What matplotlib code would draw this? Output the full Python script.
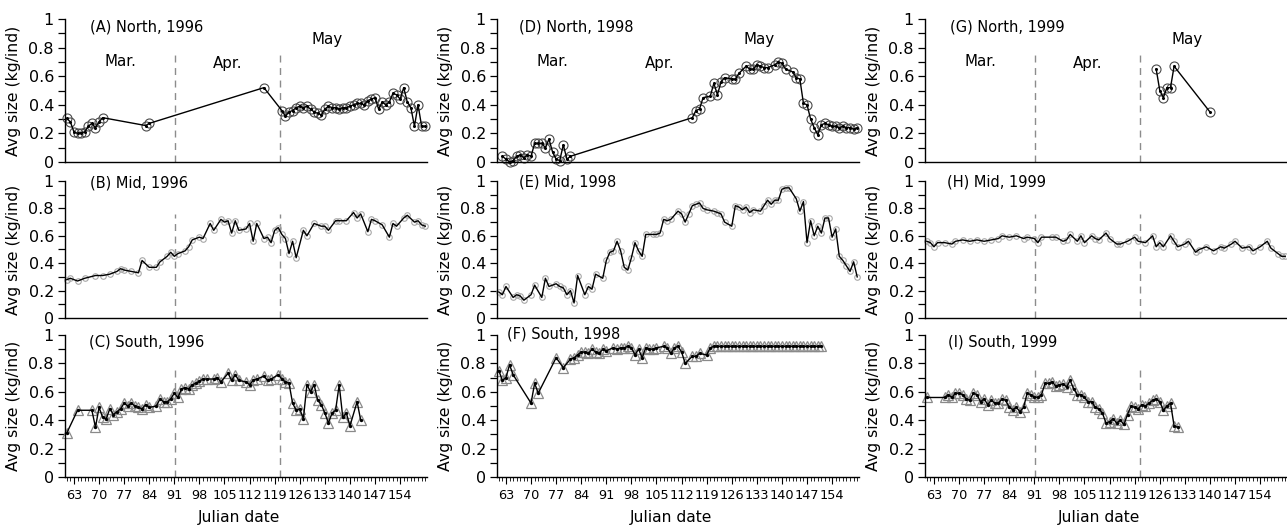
import matplotlib
matplotlib.use('Agg')
import matplotlib.pyplot as plt
from matplotlib.ticker import MultipleLocator, FixedLocator, FuncFormatter

# ---------------- data (Julian day, average size kg/ind) ----------------
# North 1996 (A)
a_days = [61, 62, 63, 64, 65, 66, 67, 68, 69, 70, 71, 83, 84, 116,
          121, 122, 123, 124, 125, 126, 127, 128, 129, 130, 131, 132, 133, 134,
          135, 136, 137, 138, 139, 140, 141, 142, 143, 144, 145, 146, 147, 148,
          149, 150, 151, 152, 153, 154, 155, 156, 157, 158, 159, 160, 161]
a_vals = [0.305, 0.28, 0.21, 0.20, 0.205, 0.21, 0.25, 0.27, 0.24, 0.28, 0.31, 0.255, 0.27, 0.52,
          0.36, 0.32, 0.35, 0.36, 0.38, 0.39, 0.38, 0.39, 0.37, 0.35, 0.34, 0.33, 0.37, 0.39,
          0.38, 0.38, 0.37, 0.38, 0.38, 0.39, 0.40, 0.41, 0.41, 0.40, 0.43, 0.44, 0.45, 0.37,
          0.42, 0.40, 0.42, 0.48, 0.47, 0.44, 0.52, 0.42, 0.38, 0.25, 0.40, 0.25, 0.25]

# Mid 1996 (B)
b_days = [61, 62, 64, 66, 69, 71, 73, 75, 76, 77, 79, 81, 82, 84, 86, 87, 89, 90, 91, 92,
          94, 95, 96, 98, 99, 101, 102, 104, 105, 106, 107, 108, 109, 111, 112, 113, 114,
          116, 117, 118, 119, 120, 121, 122, 123, 124, 125, 127, 128, 130, 132, 133, 134,
          136, 137, 139, 141, 142, 143, 145, 146, 147, 149, 151, 152, 153, 155, 156, 158,
          159, 160, 161]
b_vals = [0.28, 0.29, 0.27, 0.29, 0.31, 0.31, 0.32, 0.34, 0.36, 0.35, 0.34, 0.33, 0.42, 0.37,
          0.37, 0.41, 0.45, 0.48, 0.45, 0.47, 0.49, 0.52, 0.57, 0.59, 0.58, 0.69, 0.64, 0.72,
          0.70, 0.71, 0.62, 0.71, 0.64, 0.65, 0.69, 0.56, 0.69, 0.58, 0.59, 0.55, 0.64, 0.66,
          0.61, 0.58, 0.47, 0.56, 0.44, 0.64, 0.60, 0.69, 0.67, 0.67, 0.64, 0.71, 0.71, 0.71,
          0.77, 0.73, 0.76, 0.63, 0.72, 0.71, 0.68, 0.59, 0.69, 0.67, 0.73, 0.75, 0.70, 0.71,
          0.68, 0.67]

# South 1996 (C)
c_days = [61, 64, 68, 69, 70, 71, 72, 73, 74, 75, 76, 77, 78, 79, 80, 81, 82, 83, 84, 86,
          87, 88, 89, 90, 91, 92, 93, 94, 95, 96, 97, 98, 99, 100, 102, 103, 104, 106, 107,
          108, 109, 111, 112, 113, 114, 116, 117, 118, 120, 121, 122, 123, 124, 125, 126,
          127, 128, 129, 130, 131, 132, 133, 134, 135, 136, 137, 138, 139, 140, 142, 143]
c_vals = [0.31, 0.47, 0.47, 0.35, 0.49, 0.42, 0.41, 0.48, 0.44, 0.46, 0.48, 0.52, 0.50, 0.52,
          0.50, 0.49, 0.48, 0.51, 0.49, 0.50, 0.55, 0.53, 0.53, 0.55, 0.59, 0.56, 0.62, 0.63,
          0.62, 0.65, 0.66, 0.675, 0.69, 0.69, 0.69, 0.70, 0.67, 0.73, 0.68, 0.72, 0.68, 0.67,
          0.65, 0.68, 0.69, 0.71, 0.68, 0.69, 0.72, 0.69, 0.67, 0.66, 0.52, 0.47, 0.48, 0.41,
          0.65, 0.60, 0.65, 0.54, 0.51, 0.45, 0.38, 0.45, 0.47, 0.65, 0.42, 0.45, 0.36, 0.53,
          0.40]

# North 1998 (D)
d_days = [62, 63, 64, 65, 66, 67, 68, 69, 70, 71, 72, 73, 74, 75, 76, 77, 78, 79, 80, 81,
          115, 116, 117, 118, 120, 121, 122, 123, 124, 126, 127, 128, 130, 131, 132, 133,
          134, 135, 136, 138, 139, 140, 141, 143, 144, 145, 146, 147, 148, 149, 150, 151,
          152, 153, 154, 155, 156, 157, 158, 159, 160, 161]
d_vals = [0.04, 0.02, 0.00, 0.01, 0.04, 0.05, 0.03, 0.05, 0.04, 0.13, 0.13, 0.13, 0.10, 0.16,
          0.07, 0.02, 0.01, 0.12, 0.02, 0.04,
          0.31, 0.36, 0.37, 0.45, 0.46, 0.55, 0.47, 0.56, 0.59, 0.58, 0.58, 0.62, 0.67, 0.65,
          0.65, 0.68, 0.67, 0.66, 0.66, 0.68, 0.70, 0.69, 0.65, 0.63, 0.59, 0.58, 0.41, 0.40,
          0.30, 0.24, 0.19, 0.26, 0.27, 0.26, 0.25, 0.25, 0.24, 0.25, 0.24, 0.24, 0.23, 0.24]

# Mid 1998 (E)
e_days = [61, 62, 63, 65, 66, 67, 68, 70, 71, 73, 74, 75, 77, 78, 79, 80, 81, 82, 83, 85,
          86, 87, 88, 90, 91, 92, 93, 94, 95, 96, 97, 98, 99, 100, 101, 102, 104, 105, 106,
          107, 108, 109, 111, 112, 113, 114, 115, 116, 117, 118, 119, 121, 122, 123, 124,
          126, 127, 128, 129, 130, 131, 132, 134, 135, 136, 137, 138, 139, 140, 141, 142,
          144, 145, 146, 147, 148, 149, 150, 151, 152, 153, 154, 155, 156, 157, 158, 159,
          160, 161]
e_vals = [0.19, 0.17, 0.23, 0.15, 0.17, 0.16, 0.13, 0.17, 0.24, 0.15, 0.29, 0.23, 0.25, 0.23,
          0.22, 0.17, 0.20, 0.11, 0.31, 0.17, 0.23, 0.21, 0.32, 0.29, 0.42, 0.48, 0.49, 0.56,
          0.49, 0.37, 0.35, 0.44, 0.55, 0.49, 0.45, 0.61, 0.61, 0.61, 0.62, 0.72, 0.71, 0.72,
          0.78, 0.76, 0.70, 0.76, 0.82, 0.83, 0.84, 0.80, 0.79, 0.78, 0.77, 0.76, 0.70, 0.67,
          0.82, 0.81, 0.79, 0.81, 0.77, 0.79, 0.78, 0.82, 0.86, 0.83, 0.86, 0.86, 0.94, 0.95,
          0.95, 0.87, 0.78, 0.85, 0.55, 0.71, 0.60, 0.67, 0.62, 0.73, 0.73, 0.59, 0.65, 0.45,
          0.42, 0.38, 0.34, 0.41, 0.30]

# South 1998 (F)
f_days = [61, 62, 63, 64, 65, 70, 71, 72, 77, 79, 81, 82, 83, 84, 85, 86, 87, 88, 89, 90,
          91, 93, 94, 95, 96, 97, 98, 99, 100, 101, 102, 103, 104, 105, 107, 108, 109, 110,
          111, 112, 113, 115, 116, 117, 119, 120,
          121, 122, 123, 124, 125, 126, 127, 128, 129, 130, 131, 132, 133, 134, 135, 136,
          137, 138, 139, 140, 141, 142, 143, 144, 145, 146, 147, 148, 149, 150, 151]
f_vals = [0.75, 0.68, 0.70, 0.79, 0.72, 0.52, 0.66, 0.59, 0.84, 0.77, 0.83, 0.84, 0.86, 0.88,
          0.88, 0.87, 0.90, 0.88, 0.87, 0.90, 0.89, 0.91, 0.90, 0.91, 0.91, 0.92, 0.91, 0.86,
          0.90, 0.84, 0.91, 0.90, 0.90, 0.91, 0.92, 0.91, 0.87, 0.91, 0.92, 0.88, 0.80, 0.85,
          0.85, 0.87, 0.86, 0.91,
          0.92, 0.92, 0.92, 0.92, 0.92, 0.92, 0.92, 0.92, 0.92, 0.92, 0.92, 0.92, 0.92, 0.92,
          0.92, 0.92, 0.92, 0.92, 0.92, 0.92, 0.92, 0.92, 0.92, 0.92, 0.92, 0.92, 0.92, 0.92,
          0.92, 0.92, 0.92]

# North 1999 (G)
g_days = [125, 126, 127, 128, 129, 130, 140]
g_vals = [0.65, 0.50, 0.45, 0.52, 0.52, 0.67, 0.35]

# Mid 1999 (H)
h_days = [61, 62, 63, 64, 66, 68, 69, 71, 73, 75, 77, 79, 81, 82, 84, 86, 88, 89, 91, 92,
          93, 96, 97, 99, 100, 101, 103, 104, 105, 107, 108, 109, 111, 112, 114, 115, 117,
          119, 120, 122, 124, 125, 126, 127, 129, 130, 131, 133, 134, 136, 137, 139, 141,
          143, 144, 146, 147, 149, 151, 152, 154, 156, 157, 159, 160, 161]
h_vals = [0.56, 0.55, 0.52, 0.55, 0.55, 0.54, 0.56, 0.57, 0.56, 0.57, 0.56, 0.57, 0.58, 0.60,
          0.59, 0.60, 0.58, 0.59, 0.58, 0.55, 0.59, 0.59, 0.59, 0.56, 0.57, 0.61, 0.56, 0.60,
          0.55, 0.60, 0.58, 0.57, 0.62, 0.58, 0.54, 0.54, 0.56, 0.59, 0.56, 0.55, 0.60, 0.52,
          0.55, 0.52, 0.60, 0.56, 0.52, 0.54, 0.56, 0.48, 0.50, 0.52, 0.49, 0.52, 0.51, 0.54,
          0.56, 0.51, 0.52, 0.49, 0.52, 0.56, 0.51, 0.47, 0.45, 0.45]

# South 1999 (I)
i_days = [61, 66, 67, 68, 69, 70, 71, 72, 73, 74, 75, 76, 77, 78, 79, 80, 81, 82, 83, 84,
          85, 86, 87, 88, 89, 90, 91, 92, 93, 94, 95, 96, 97, 98, 99, 100, 101, 102, 103,
          104, 105, 106, 107, 108, 109, 110, 111, 112, 113, 114, 115, 116, 117, 118, 119,
          120, 121, 122, 123, 124, 125, 126, 127, 128, 129, 130, 131]
i_vals = [0.56, 0.56, 0.58, 0.56, 0.59, 0.59, 0.58, 0.55, 0.54, 0.59, 0.58, 0.53, 0.55, 0.51,
          0.54, 0.52, 0.52, 0.55, 0.54, 0.49, 0.475, 0.49, 0.46, 0.49, 0.59, 0.58, 0.565,
          0.56, 0.58, 0.66, 0.66, 0.67, 0.64, 0.65, 0.655, 0.635, 0.68, 0.62, 0.58, 0.58,
          0.56, 0.53, 0.53, 0.49, 0.48, 0.45, 0.38, 0.39, 0.41, 0.38, 0.40, 0.37, 0.44, 0.50,
          0.49, 0.48, 0.51, 0.50, 0.52, 0.54, 0.55, 0.53, 0.47, 0.50, 0.52, 0.36, 0.35]

panel_titles = [["(A) North, 1996", "(B) Mid, 1996", "(C) South, 1996"],
                ["(D) North, 1998", "(E) Mid, 1998", "(F) South, 1998"],
                ["(G) North, 1999", "(H) Mid, 1999", "(I) South, 1999"]]
series = [[(a_days, a_vals), (b_days, b_vals), (c_days, c_vals)],
          [(d_days, d_vals), (e_days, e_vals), (f_days, f_vals)],
          [(g_days, g_vals), (h_days, h_vals), (i_days, i_vals)]]
month_names = ["Mar.", "Apr.", "May"]
month_label_x = [76, 105.8, 133.6]
month_label_y = [0.70, 0.69, 0.86]
month_bounds = [91.3, 120.6]
xtick_labels = list(range(63, 155, 7))

# ---------------- layout ----------------
W, H = 1287, 526
fig = plt.figure(figsize=(W / 100, H / 100), dpi=100)
cols_left = [65, 497, 925]
ax_w = 362
rows = [(19, 162), (181, 318), (335, 477)]

title_pos = [[(0.069, 0.944), (0.069, 0.985), (0.067, 0.95)],
             [(0.061, 0.944), (0.061, 0.99), (0.027, 1.01)],
             [(0.069, 0.944), (0.061, 0.99), (0.063, 0.95)]]

styles = [dict(marker='o', ms=6.5, mec='#4a4a4a', mew=0.8, dot=1.2),
          dict(marker='o', ms=4.0, mec='#a8a8a8', mew=0.8, dot=0),
          dict(marker='^', ms=6.5, mec='#8a8a8a', mew=0.9, dot=1.4)]

for c in range(3):
    for r in range(3):
        top, bot = rows[r]
        ax = fig.add_axes([cols_left[c] / W, 1 - bot / H, ax_w / W, (bot - top) / H])
        ax.set_xlim(60.5, 161.5)
        ax.set_ylim(0, 1)
        for s in ['top', 'right']:
            ax.spines[s].set_visible(False)
        for s in ['left', 'bottom']:
            ax.spines[s].set_linewidth(1.0)
        ax.yaxis.set_major_locator(MultipleLocator(0.2))
        ax.yaxis.set_minor_locator(MultipleLocator(0.1))
        ax.yaxis.set_major_formatter(FuncFormatter(lambda v, p: f"{v:g}"))
        ax.tick_params(axis='y', which='both', direction='out', length=5, width=0.9,
                       labelsize=11.5, pad=3)
        if r == 2:
            ax.xaxis.set_major_locator(FixedLocator(xtick_labels))
            ax.xaxis.set_minor_locator(MultipleLocator(1))
            ax.tick_params(axis='x', which='major', direction='out', length=5, width=0.8,
                           labelsize=9.3, pad=3.5)
            ax.tick_params(axis='x', which='minor', direction='out', length=3, width=0.6)
            ax.set_xlabel("Julian date", fontsize=11.2)
            ax.xaxis.set_label_coords(0.48, -0.235)
        else:
            ax.tick_params(axis='x', which='both', bottom=False, labelbottom=False)
        ax.set_ylabel("Avg size (kg/ind)", fontsize=11.3)
        ax.yaxis.set_label_coords(-0.122, 0.5)

        if c != 1:
            for mb in month_bounds:
                ax.axvline(mb, ymin=0, ymax=0.76, color='#8c8c8c', lw=1.0,
                           ls=(0, (5, 4)), zorder=1)
        if r == 0:
            for name, mx, my in zip(month_names, month_label_x, month_label_y):
                ax.text(mx, my, name, ha='center', va='center', fontsize=10.8)

        xs, ys = series[c][r]
        st = styles[r]
        ax.plot(xs, ys, ls='none', marker=st['marker'], ms=st['ms'], mfc='none',
                mec=st['mec'], mew=st['mew'], zorder=2, clip_on=False)
        ax.plot(xs, ys, color='black', lw=1.0, marker='o' if st['dot'] else None,
                ms=st['dot'], zorder=3, clip_on=False)

        tx, ty = title_pos[c][r]
        ax.text(tx, ty, panel_titles[c][r], transform=ax.transAxes, ha='left', va='center',
                fontsize=10.5)

fig.savefig("out.png", dpi=100)
